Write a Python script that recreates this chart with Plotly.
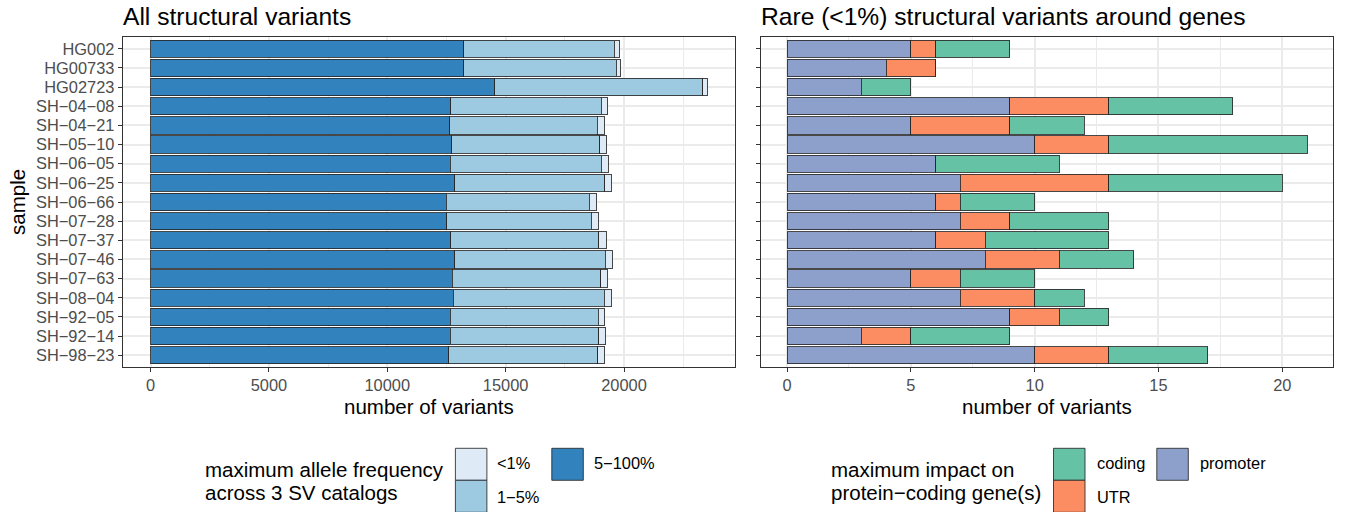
import plotly.graph_objects as go

W, H = 1345, 512

samples = ["HG002", "HG00733", "HG02723", "SH-04-08", "SH-04-21", "SH-05-10", "SH-06-05",
           "SH-06-25", "SH-06-66", "SH-07-28", "SH-07-37", "SH-07-46", "SH-07-63", "SH-08-04",
           "SH-92-05", "SH-92-14", "SH-98-23"]
labels = [s.replace("-", "\u2212") for s in samples]

# All SVs by maximum allele frequency
af_common = [13231, 13231, 14537, 12683, 12635, 12716, 12667, 12845, 12490, 12522, 12683, 12845,
             12748, 12796, 12651, 12651, 12603]   # 5-100%
af_lowfreq = [6350, 6447, 8783, 6366, 6237, 6269, 6366, 6349, 6043, 6092, 6254, 6365,
              6269, 6366, 6253, 6286, 6285]        # 1-5%
af_rare = [242, 177, 193, 258, 322, 290, 306, 274, 323, 306, 322, 323,
           274, 306, 290, 289, 290]                 # <1%

# Rare SVs around genes by max impact
imp_promoter = [5, 4, 3, 9, 5, 10, 6, 7, 6, 7, 6, 8, 5, 7, 9, 3, 10]
imp_utr = [1, 2, 0, 4, 4, 3, 0, 6, 1, 2, 2, 3, 2, 3, 2, 2, 3]
imp_coding = [3, 0, 2, 5, 3, 8, 5, 7, 3, 4, 5, 3, 3, 2, 2, 4, 4]

C_DARK, C_MID, C_LIGHT = "#3182BD", "#9ECAE1", "#DEEBF7"
C_COD, C_UTR, C_PRO = "#66C2A5", "#FC8D62", "#8DA0CB"
OUTLINE = "rgba(40,40,40,0.85)"
FONT = "Liberation Sans, Arial, Helvetica, sans-serif"

def X(px):
    return px / W

def Y(py):
    return 1 - py / H

fig = go.Figure()
for vals, col, name in [(af_common, C_DARK, "5\u2212100%"), (af_lowfreq, C_MID, "1\u22125%"), (af_rare, C_LIGHT, "<1%")]:
    fig.add_trace(go.Bar(y=labels, x=vals, orientation="h", marker=dict(color=col, line=dict(color=OUTLINE, width=1)),
                         width=0.9, name=name, xaxis="x", yaxis="y", showlegend=False))
for vals, col, name in [(imp_promoter, C_PRO, "promoter"), (imp_utr, C_UTR, "UTR"), (imp_coding, C_COD, "coding")]:
    fig.add_trace(go.Bar(y=labels, x=vals, orientation="h", marker=dict(color=col, line=dict(color=OUTLINE, width=1)),
                         width=0.9, name=name, xaxis="x2", yaxis="y2", showlegend=False))

tot_left = [a + b + c for a, b, c in zip(af_common, af_lowfreq, af_rare)]
tot_right = [a + b + c for a, b, c in zip(imp_promoter, imp_utr, imp_coding)]
mL, mR = max(tot_left), max(tot_right)

GRID = "#EBEBEB"
common_x = dict(showline=True, mirror=True, linecolor="#333333", linewidth=1, ticks="outside", ticklen=4,
                tickcolor="#333333", tickfont=dict(size=16.4, color="#4D4D4D", family=FONT),
                showgrid=True, gridcolor=GRID, gridwidth=2, zeroline=False, automargin=False)
common_y = dict(showline=True, mirror=True, linecolor="#333333", linewidth=1, ticks="outside", ticklen=4,
                tickcolor="#333333", tickfont=dict(size=16.4, color="#4D4D4D", family=FONT),
                showgrid=True, gridcolor=GRID, gridwidth=2, zeroline=False, automargin=False,
                type="category", categoryorder="array", categoryarray=labels,
                tickmode="array", tickvals=labels, ticktext=labels,
                range=[len(labels) - 0.4, -0.6])

yd = [Y(366.7), Y(37.3)]
fig.update_layout(
    width=W, height=H, autosize=False,
    margin=dict(l=0, r=0, t=0, b=0, pad=0),
    paper_bgcolor="white", plot_bgcolor="white",
    barmode="stack", bargap=0.1,
    font=dict(family=FONT, color="black"),
    xaxis=dict(common_x, domain=[X(122.7), X(735)], range=[-0.05 * mL, 1.05 * mL],
               tickvals=[0, 5000, 10000, 15000, 20000], ticktext=["0", "5000", "10000", "15000", "20000"],
               minor=dict(tickvals=[2500, 7500, 12500, 17500, 22500], showgrid=True, gridcolor=GRID, gridwidth=1, ticks=""),
               anchor="y"),
    yaxis=dict(common_y, domain=yd, anchor="x"),
    xaxis2=dict(common_x, domain=[X(761), X(1333)], range=[-0.05 * mR, 1.05 * mR],
                tickvals=[0, 5, 10, 15, 20],
                minor=dict(tickvals=[2.5, 7.5, 12.5, 17.5], showgrid=True, gridcolor=GRID, gridwidth=1, ticks=""),
                anchor="y2"),
    yaxis2=dict(common_y, domain=yd, anchor="x2", showticklabels=False),
)

ann = []
def text(x, y, s, size, xanchor="left", color="black", angle=0):
    ann.append(dict(x=X(x), y=Y(y), xref="paper", yref="paper", text=s, showarrow=False,
                    xanchor=xanchor, yanchor="middle", textangle=angle,
                    font=dict(size=size, color=color, family=FONT)))

text(121, 16, "All structural variants", 24.6)
text(759, 16, "Rare (<1%) structural variants around genes", 24.6)
text(428.9, 406, "number of variants", 20.5, xanchor="center")
text(1047, 406, "number of variants", 20.5, xanchor="center")
text(17, 202, "sample", 20.5, xanchor="center", angle=-90)

# legends (manual)
text(203, 469, "maximum allele frequency", 20.5)
text(203, 492, "across 3 SV catalogs", 20.5)
text(829, 469, "maximum impact on", 20.5)
text(829, 492, "protein\u2212coding gene(s)", 20.5)
text(495, 463, "<1%", 16.4)
text(495, 497, "1\u22125%", 16.4)
text(592, 463, "5\u2212100%", 16.4)
text(1095, 463, "coding", 16.4)
text(1095, 497, "UTR", 16.4)
text(1198, 463, "promoter", 16.4)

shapes = []
def key(x0, y0, col):
    shapes.append(dict(type="rect", xref="paper", yref="paper", x0=X(x0), x1=X(x0 + 31.5), y0=Y(y0), y1=Y(y0 + 32),
                       fillcolor=col, line=dict(color=OUTLINE, width=1)))

key(455.4, 448.3, C_LIGHT)
key(455.4, 480.3, C_MID)
key(551.8, 448.3, C_DARK)
key(1053.5, 448.3, C_COD)
key(1053.5, 480.3, C_UTR)
key(1156.8, 448.3, C_PRO)

fig.update_layout(annotations=ann, shapes=shapes)
fig.write_html("out.html", config={"displayModeBar": False},
               post_script="document.body.style.margin='0';document.body.style.overflow='hidden';")
